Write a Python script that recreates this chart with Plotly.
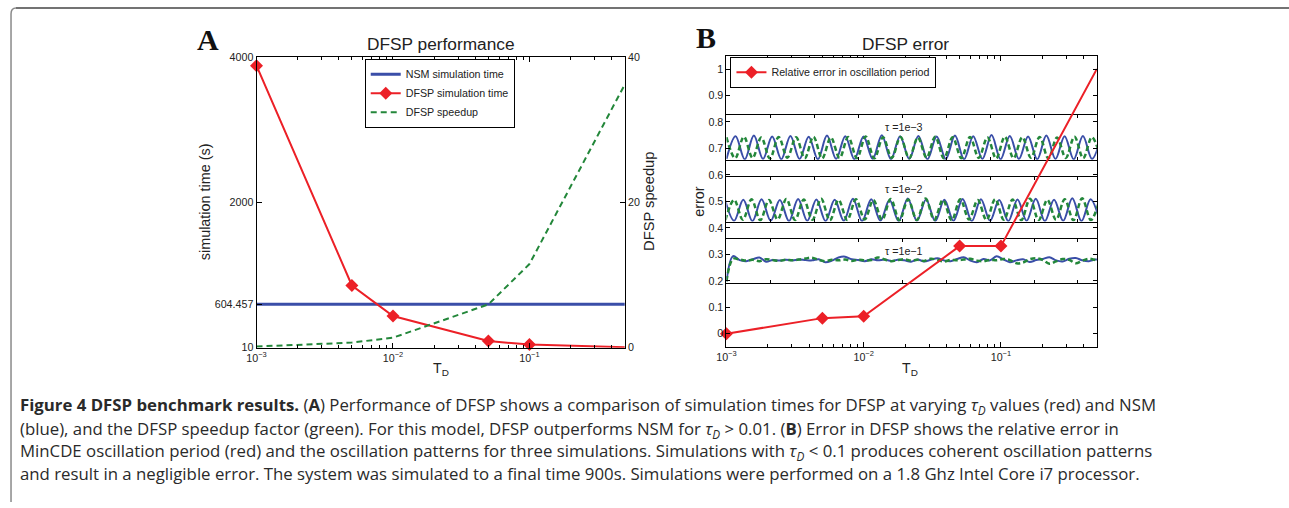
import math
import plotly.graph_objects as go

W, H = 1289, 508

# ---------------- data ----------------
tau_d = [0.001, 0.005, 0.01, 0.05, 0.1, 0.5]
nsm_time = [604.457, 604.457, 604.457, 604.457, 604.457, 604.457]
dfsp_time = [3877, 863, 444, 101, 53, 17]
dfsp_speedup = [0.16, 0.70, 1.37, 5.95, 11.5, 36.2]
rel_error = [0.0, 0.059, 0.066, 0.331, 0.331, 1.0]

x_tickvals = [0.001, 0.01, 0.1]
x_ticktext = ["10<sup>−3</sup>", "10<sup>−2</sup>", "10<sup>−1</sup>"]
x_minor = [0.002, 0.003, 0.004, 0.005, 0.006, 0.007, 0.008, 0.009,
           0.02, 0.03, 0.04, 0.05, 0.06, 0.07, 0.08, 0.09,
           0.2, 0.3, 0.4, 0.5]
time_ticks = [10, 604.457, 2000, 4000]
time_ticktext = ["10", "604.457", "2000", "4000"]
speedup_ticks = [0, 20, 40]
speedup_ticktext = ["0", "20", "40"]
error_ticks = [0, 0.1, 0.2, 0.3, 0.4, 0.5, 0.6, 0.7, 0.8, 0.9, 1.0]
error_ticktext = ["0", "0.1", "0.2", "0.3", "0.4", "0.5", "0.6", "0.7", "0.8", "0.9", "1"]

inset_labels = ["τ =1e−3", "τ =1e−2", "τ =1e−1"]
inset_time_ticks = [100, 200, 300, 400, 500, 600, 700, 800]

# oscillation extrema (tau = 1e-3)
osc1_blue = [0.662, 0.748, 0.661, 0.750, 0.662, 0.747, 0.661, 0.749, 0.662, 0.746,
             0.661, 0.750, 0.662, 0.748, 0.661, 0.747, 0.662, 0.751, 0.661, 0.748,
             0.662, 0.749, 0.661, 0.747, 0.662, 0.750, 0.661, 0.748, 0.662, 0.752,
             0.661, 0.749, 0.662, 0.747, 0.661, 0.750, 0.662, 0.748, 0.661, 0.749,
             0.662, 0.747]
osc1_green = [0.744, 0.665, 0.746, 0.666, 0.743, 0.664, 0.745, 0.667, 0.744, 0.665,
              0.746, 0.664, 0.743, 0.666, 0.745, 0.665, 0.747, 0.664, 0.744, 0.666,
              0.745, 0.665, 0.743, 0.667, 0.746, 0.664, 0.744, 0.665, 0.745, 0.666,
              0.743, 0.664, 0.746, 0.665, 0.744, 0.667, 0.745, 0.664, 0.743, 0.666,
              0.746, 0.665, 0.744, 0.666]
# tau = 1e-2
osc2_blue = [0.508, 0.428, 0.507, 0.427, 0.509, 0.428, 0.506, 0.427, 0.510, 0.428,
             0.508, 0.427, 0.507, 0.428, 0.511, 0.427, 0.509, 0.428, 0.506, 0.427,
             0.512, 0.428, 0.508, 0.427, 0.507, 0.428, 0.510, 0.427, 0.509, 0.428,
             0.506, 0.427, 0.508, 0.428, 0.511, 0.427, 0.507, 0.428, 0.513, 0.427,
             0.509, 0.428]
osc2_green = [0.431, 0.507, 0.432, 0.509, 0.430, 0.506, 0.433, 0.510, 0.431, 0.508,
              0.432, 0.511, 0.430, 0.507, 0.431, 0.509, 0.433, 0.506, 0.432, 0.510,
              0.430, 0.508, 0.431, 0.512, 0.432, 0.507, 0.430, 0.509, 0.433, 0.506,
              0.431, 0.510, 0.432, 0.508, 0.430, 0.511, 0.431, 0.507, 0.432, 0.509,
              0.430, 0.513, 0.431, 0.508]
# tau = 1e-1 (noisy)
osc3_blue = [0.200, 0.295, 0.280, 0.276, 0.283, 0.290, 0.274, 0.280, 0.278, 0.281,
             0.279, 0.282, 0.280, 0.279, 0.283, 0.272, 0.278, 0.290, 0.293, 0.283,
             0.280, 0.276, 0.283, 0.279, 0.282, 0.277, 0.281, 0.279, 0.274, 0.282,
             0.275, 0.281, 0.287, 0.279, 0.276, 0.284, 0.291, 0.278, 0.272, 0.284,
             0.279, 0.294, 0.283, 0.272, 0.279, 0.283, 0.273, 0.280, 0.284, 0.291,
             0.279, 0.275, 0.285, 0.288, 0.279, 0.276, 0.282, 0.279]
osc3_green = [0.200, 0.285, 0.282, 0.278, 0.281, 0.276, 0.283, 0.280, 0.277, 0.281,
              0.279, 0.282, 0.286, 0.289, 0.280, 0.276, 0.281, 0.279, 0.282, 0.277,
              0.281, 0.279, 0.280, 0.290, 0.282, 0.276, 0.280, 0.283, 0.278, 0.281,
              0.277, 0.285, 0.281, 0.274, 0.281, 0.279, 0.282, 0.285, 0.278, 0.276,
              0.281, 0.279, 0.284, 0.280, 0.268, 0.271, 0.283, 0.287, 0.280, 0.266,
              0.275, 0.284, 0.281, 0.268, 0.278, 0.285, 0.280, 0.277]

caption_lines = [
    "<b>Figure 4 DFSP benchmark results.</b> (<b>A</b>) Performance of DFSP shows a comparison of simulation times for DFSP at varying <i>τ</i><sub><i>D</i></sub> values (red) and NSM",
    "(blue), and the DFSP speedup factor (green). For this model, DFSP outperforms NSM for <i>τ</i><sub><i>D</i></sub> &gt; 0.01. (<b>B</b>) Error in DFSP shows the relative error in",
    "MinCDE oscillation period (red) and the oscillation patterns for three simulations. Simulations with <i>τ</i><sub><i>D</i></sub> &lt; 0.1 produces coherent oscillation patterns",
    "and result in a negligible error. The system was simulated to a final time 900s. Simulations were performed on a 1.8 Ghz Intel Core i7 processor.",
]

# ---------------- style ----------------
BLUE = "#3a4ea8"
RED = "#ec2027"
GREEN = "#23873a"
SANS = "Liberation Sans, Arial, sans-serif"
TXT = "#222222"

# positions below are given in target-picture pixels; map them to paper fractions
OX, SX, OY, SY = 9.0, 0.993, 4.1, 0.979


def fx(px):
    return max(0.0, ((px - OX) / SX) / W)


def fy(py):
    return min(1.0, max(0.0, 1 - ((py - OY) / SY) / H))


fig = go.Figure()

# Panel A
fig.add_trace(go.Scatter(x=tau_d, y=nsm_time, mode="lines", name="NSM simulation time",
                         line=dict(color=BLUE, width=3), xaxis="x", yaxis="y", legend="legend"))
fig.add_trace(go.Scatter(x=tau_d, y=dfsp_time, mode="lines+markers", name="DFSP simulation time",
                         line=dict(color=RED, width=2), marker=dict(symbol="diamond", size=10, color=RED),
                         cliponaxis=False, xaxis="x", yaxis="y", legend="legend"))
fig.add_trace(go.Scatter(x=tau_d, y=dfsp_speedup, mode="lines", name="DFSP speedup",
                         line=dict(color=GREEN, width=2, dash="6px,4px"), xaxis="x", yaxis="y2",
                         legend="legend"))

# Insets in panel B
inset_series = [(osc1_blue, 0, 20.8, osc1_green, 0, 19.8, "x3", "y3"),
                (osc2_blue, -3.3, 20.8, osc2_green, -2.3, 19.8, "x4", "y4")]
for b, bx0, bdx, g, gx0, gdx, xa, ya in inset_series:
    fig.add_trace(go.Scatter(y=b, x0=bx0, dx=bdx, mode="lines", line=dict(color=BLUE, width=2, shape="spline"),
                             showlegend=False, xaxis=xa, yaxis=ya, hoverinfo="skip"))
    fig.add_trace(go.Scatter(y=g, x0=gx0, dx=gdx, mode="lines",
                             line=dict(color=GREEN, width=2.5, dash="5px,3px", shape="spline"),
                             showlegend=False, xaxis=xa, yaxis=ya, hoverinfo="skip"))
fig.add_trace(go.Scatter(y=osc3_blue, x0=0, dx=15, mode="lines", line=dict(color=BLUE, width=2, shape="spline"),
                         showlegend=False, xaxis="x5", yaxis="y5", hoverinfo="skip"))
fig.add_trace(go.Scatter(y=osc3_green, x0=0, dx=15, mode="lines",
                         line=dict(color=GREEN, width=2.5, dash="5px,3px", shape="spline"),
                         showlegend=False, xaxis="x5", yaxis="y5", hoverinfo="skip"))

# Panel B main
fig.add_trace(go.Scatter(x=tau_d, y=rel_error, mode="lines+markers", name="Relative error in oscillation period",
                         line=dict(color=RED, width=2), marker=dict(symbol="diamond", size=10, color=RED),
                         cliponaxis=False, xaxis="x6", yaxis="y6", legend="legend2"))

tickfont = dict(family=SANS, size=10.7, color=TXT)
xr = [math.log10(tau_d[0]), math.log10(tau_d[-1])]


def log_x(domain, anchor):
    return dict(type="log", range=xr, domain=domain, anchor=anchor, showline=True, linecolor="#000",
                linewidth=1, mirror="ticks", ticks="inside", ticklen=5, tickcolor="#000",
                tickvals=x_tickvals, ticktext=x_ticktext, tickfont=tickfont, showgrid=False, zeroline=False,
                minor=dict(ticks="inside", ticklen=3, tickcolor="#000", tickvals=x_minor, showgrid=False))


xa_dom = [fx(255.7), fx(624.3)]
ya_dom = [fy(346.7), fy(55)]
xb_dom = [fx(726), fx(1096.7)]
yb_dom = [fy(346), fy(54)]

inset_boxes = [(113.3, 158.3, [0.659, 0.828]), (175.3, 220.3, [0.425, 0.594]), (237.3, 282.3, [0.192, 0.361])]

layout = dict(
    autosize=True, margin=dict(l=0, r=0, t=0, b=0, pad=0),
    paper_bgcolor="white", plot_bgcolor="rgba(0,0,0,0)",
    font=dict(family=SANS, color=TXT),
    xaxis=log_x(xa_dom, "y"),
    yaxis=dict(range=[10, 4000], domain=ya_dom, anchor="x", showline=True, linecolor="#000", linewidth=1,
               ticks="inside", ticklen=5, tickcolor="#000", tickvals=time_ticks, ticktext=time_ticktext,
               tickfont=tickfont, showgrid=False, zeroline=False),
    yaxis2=dict(range=[0, 40], overlaying="y", side="right", anchor="x", showline=True, linecolor="#000",
                linewidth=1, ticks="inside", ticklen=5, tickcolor="#000", tickvals=speedup_ticks,
                ticktext=speedup_ticktext, tickfont=tickfont, showgrid=False, zeroline=False),
    xaxis6=log_x(xb_dom, "y6"),
    yaxis6=dict(range=[-0.05, 1.05], domain=yb_dom, anchor="x6", showline=True, linecolor="#000", linewidth=1,
                mirror="ticks", ticks="inside", ticklen=4, tickcolor="#000", tickvals=error_ticks,
                ticktext=error_ticktext, tickfont=tickfont, showgrid=False, zeroline=False),
    legend=dict(x=fx(364), y=fy(57), xanchor="left", yanchor="top", bordercolor="#000", borderwidth=1,
                bgcolor="white", font=dict(family=SANS, size=10.7, color=TXT), tracegroupgap=0, itemwidth=30),
    legend2=dict(x=fx(730), y=fy(55), xanchor="left", yanchor="top", bordercolor="#000", borderwidth=1,
                 bgcolor="white", font=dict(family=SANS, size=10.7, color=TXT), itemwidth=30),
)
for i, (top, bot, yr) in enumerate(inset_boxes):
    n = i + 3
    layout[f"xaxis{n}"] = dict(range=[0, 843], domain=xb_dom, anchor=f"y{n}", showline=True, linecolor="#000",
                               linewidth=1, mirror="ticks", ticks="inside", ticklen=3, tickcolor="#000",
                               tickvals=inset_time_ticks, showticklabels=False, showgrid=False, zeroline=False)
    layout[f"yaxis{n}"] = dict(range=yr, domain=[fy(bot), fy(top)], anchor=f"x{n}", showline=True,
                               linecolor="#000", linewidth=1, mirror=True, ticks="", showticklabels=False,
                               showgrid=False, zeroline=False)
fig.update_layout(**layout)

ann = []


def add_text(text, px, py, size, angle=0, family=SANS, xanchor="center", color=TXT):
    ann.append(dict(text=text, x=fx(px), y=fy(py), xref="paper", yref="paper", showarrow=False,
                    xanchor=xanchor, yanchor="middle", textangle=angle,
                    font=dict(family=family, size=size, color=color)))


add_text("<b>A</b>", 194, 38, 30, family="Liberation Serif, Times New Roman, serif", xanchor="left", color="#111")
add_text("<b>B</b>", 694, 36, 30, family="Liberation Serif, Times New Roman, serif", xanchor="left", color="#111")
add_text("DFSP performance", 440, 42.4, 17.3)
add_text("DFSP error", 905, 42.4, 17.3)
add_text("simulation time (s)", 205, 200, 14.4, angle=-90)
add_text("DFSP speedup", 649, 200, 14.7, angle=-90)
add_text("error", 699, 200, 14.4, angle=-90)
add_text("T<sub>D</sub>", 440, 368, 14.2)
add_text("T<sub>D</sub>", 910, 368, 14.2)
for lbl, (top, bot, yr) in zip(inset_labels, inset_boxes):
    add_text(lbl, 904, top + 12, 10.7)

cap_y = [405, 428.3, 451, 473.3]
for line, py in zip(caption_lines, cap_y):
    add_text(line, 17, py, 16.8, family="Open Sans, sans-serif", xanchor="left", color="#2a2a2a")

fig.update_layout(annotations=ann)

# outer frame (top and left rules with rounded corner)
fig.add_shape(type="path", xref="paper", yref="paper",
              path=f"M {0.0008},{0} L {0.0008},{fy(12)} Q {0.0008},{fy(6)} {fx(15)},{fy(6)}",
              line=dict(color="#8a8a8a", width=1.5))
fig.add_shape(type="line", xref="paper", yref="paper", x0=fx(15), y0=fy(6), x1=1, y1=fy(6),
              line=dict(color="#444", width=1.5))

fig.write_html("out.html", config={"displayModeBar": False},
               default_width="100vw", default_height="100vh",
               post_script="document.body.style.margin='0px';document.body.style.overflow='hidden';"
                           "Plotly.Plots.resize(document.getElementById('{plot_id}'));")
